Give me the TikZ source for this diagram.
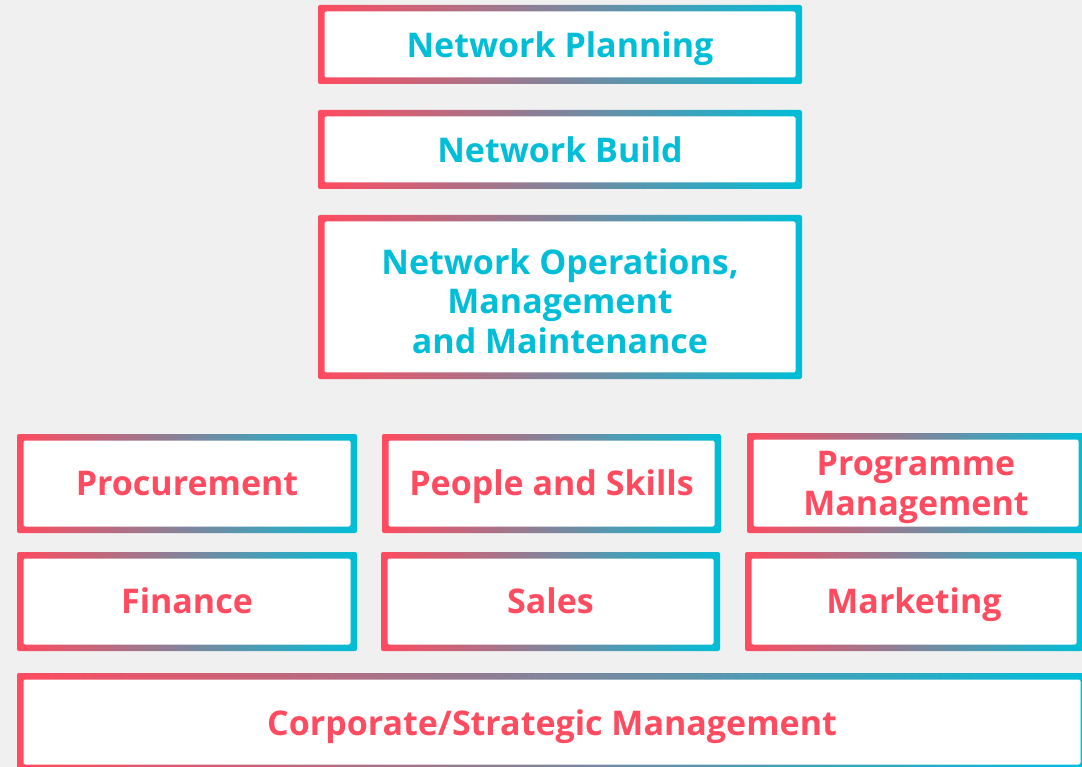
\documentclass[tikz,border=0pt]{standalone}
\usepackage{fontspec}
\setmainfont{Open Sans}
\definecolor{cred}{HTML}{FF4B5F}
\definecolor{ccyan}{HTML}{00BED8}
\definecolor{bg}{HTML}{F0F0F0}
\newcommand{\mlines}[1]{\begin{tabular}[b]{@{}c@{}}#1\end{tabular}}
\begin{document}
\begin{tikzpicture}[x=1pt,y=-1pt,
  gbox/.style={rectangle, rounded corners=2pt, left color=cred, right color=ccyan,
    inner sep=0pt, align=center, font=\bfseries\fontsize{34}{39.5}\selectfont,
    path picture={\fill[white] ([shift={(6.5pt,6.5pt)}]path picture bounding box.south west) rectangle ([shift={(-6.5pt,-6.5pt)}]path picture bounding box.north east);}},
  topbox/.style={gbox, text=ccyan, minimum width=484pt, text height=30pt, text depth=4pt},
  lowbox/.style={gbox, text=cred, text height=27pt, text depth=4pt}]
\useasboundingbox (0,0) rectangle (1082,767);
\fill[bg] (0,0) rectangle (1082,767);
\begin{scope}
\clip (0,0) rectangle (1082,767);
\node[topbox, minimum height=79pt] (np) at (560,44.5) {Network Planning};
\node[topbox, minimum height=79pt] (nb) at (560,149.5) {Network Build};
\node[topbox, minimum height=164pt, text height=116pt] (no) at (560,297) {\mlines{Network Operations,\\Management\\and Maintenance}};
\node[lowbox, minimum width=340pt, minimum height=99pt] (proc) at (187,483.5) {Procurement};
\node[lowbox, minimum width=339pt, minimum height=99pt] (ppl) at (551.5,483.5) {People and Skills};
\node[lowbox, minimum width=338pt, minimum height=100pt, text height=68pt] (prog) at (916,483) {\mlines{Programme\\Management}};
\node[lowbox, minimum width=340pt, minimum height=99pt] (fin) at (187,601.5) {Finance};
\node[lowbox, minimum width=339pt, minimum height=99pt] (sales) at (550.5,601.5) {Sales};
\node[lowbox, minimum width=338pt, minimum height=99pt] (mkt) at (914,601.5) {Marketing};
\node[lowbox, minimum width=1070pt, minimum height=98pt, text height=30pt] (corp) at (552,722) {Corporate/Strategic Management};
\end{scope}
\end{tikzpicture}
\end{document}
